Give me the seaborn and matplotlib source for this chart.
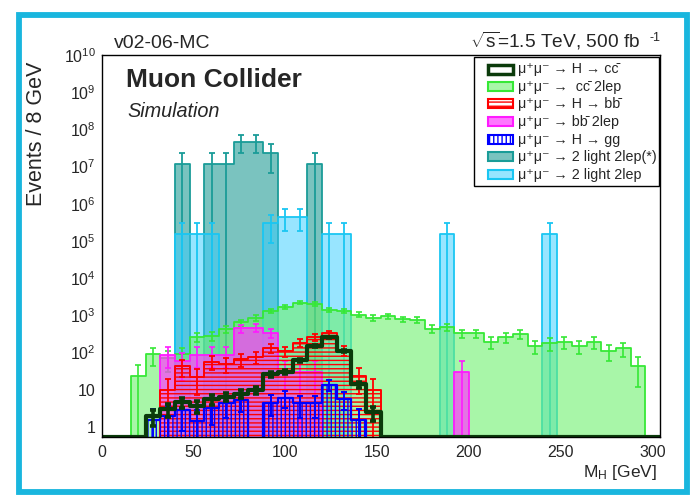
import matplotlib
matplotlib.use("Agg")
import matplotlib.pyplot as plt
import matplotlib.patches as mpatches
import matplotlib.ticker as mticker
import numpy as np
import pandas as pd
import seaborn as sns

W, H = 692, 497          # output size in pixels
YMIN, YMAX = 0.54, 1e10  # log y range

# ── data: events per 8 GeV bin, 0 .. 304 GeV (38 bins) ──────────────────────
bin_edges = np.arange(0, 305, 8)
bin_centers = bin_edges[:-1] + 4

h_cc = [0, 0, 0, 2.0, 3.1, 4.6, 3.6, 5.5, 6.6, 7.8, 10, 26, 31, 63, 153, 258, 108, 14, 2.5,
        0, 0, 0, 0, 0, 0, 0, 0, 0, 0, 0, 0, 0, 0, 0, 0, 0, 0, 0]
cc_2lep = [0, 0, 24, 90, 70, 90, 267, 285, 431, 650, 867, 1313, 1714, 2222, 2065, 1441, 1355, 1045, 861,
           946, 785, 752, 439, 479, 330, 330, 196, 258, 311, 150, 178, 196, 150, 196, 110, 131, 44, 0]
h_bb = [0, 0, 0, 0, 10, 43, 22, 57, 50, 66, 76, 133, 110, 185, 263, 330, 117, 23, 10,
        0, 0, 0, 0, 0, 0, 0, 0, 0, 0, 0, 0, 0, 0, 0, 0, 0, 0, 0]
bb_2lep = [0, 0, 0, 0, 89, 59, 89, 89, 89, 450, 467, 343, 30, 30, 30, 0, 0, 0, 0,
           0, 0, 0, 0, 0, 30, 0, 0, 0, 0, 0, 0, 0, 0, 0, 0, 0, 0, 0]
h_gg = [0, 0, 0, 1.5, 2.0, 2.8, 1.45, 3.3, 4.3, 5.3, 0, 4.5, 6.2, 4.3, 4.3, 13.7, 5.8, 1.5, 0,
        0, 0, 0, 0, 0, 0, 0, 0, 0, 0, 0, 0, 0, 0, 0, 0, 0, 0, 0]
light_2lep_star = [0, 0, 0, 0, 0, 1.18e7, 0, 1.18e7, 1.18e7, 4.7e7, 4.7e7, 2.36e7, 0, 0, 1.18e7, 0, 0, 0, 0,
                   0, 0, 0, 0, 0, 0, 0, 0, 0, 0, 0, 0, 0, 0, 0, 0, 0, 0, 0]
light_2lep = [0, 0, 0, 0, 0, 1.51e5, 1.51e5, 1.51e5, 0, 0, 0, 3.02e5, 4.53e5, 4.53e5, 0, 1.51e5, 1.51e5, 0, 0,
              0, 0, 0, 0, 1.51e5, 0, 0, 0, 0, 0, 0, 1.51e5, 0, 0, 0, 0, 0, 0, 0]

# per-event MC weight of each sample (sets the size of the error bars)
w_cc, w_cc2, w_bb, w_bb2, w_gg, w_l2s, w_l2 = 0.45, 23, 10, 29.5, 1.45, 1.18e7, 1.51e5

# plain unicode labels (combining macron for the anti-quarks)
labels = [
    "\u03bc\u207a\u03bc\u207b \u2192 H \u2192 cc\u0304",
    "\u03bc\u207a\u03bc\u207b \u2192  cc\u0304 2lep",
    "\u03bc\u207a\u03bc\u207b \u2192 H \u2192 bb\u0304",
    "\u03bc\u207a\u03bc\u207b \u2192 bb\u0304 2lep",
    "\u03bc\u207a\u03bc\u207b \u2192 H \u2192 gg",
    "\u03bc\u207a\u03bc\u207b \u2192 2 light 2lep(*)",
    "\u03bc\u207a\u03bc\u207b \u2192 2 light 2lep",
]

C_CC = "#0b3b0b"
GREEN_E, GREEN_F = "#36e836", (0.43, 0.94, 0.43, 0.6)
RED = "#ff0000"
PINK_E, PINK_F = "#ff1aff", (1.0, 0.24, 1.0, 0.7)
BLUE = "#0000ff"
TEAL_E, TEAL_F = "#1a9c98", (0.16, 0.62, 0.60, 0.62)
CYAN_E, CYAN_F = "#1ac6f2", (0.2, 0.8, 1.0, 0.5)
BORDER = "#19b6de"

sns.set_style("white")
plt.rcParams["font.family"] = ["Liberation Sans", "DejaVu Sans"]
plt.rcParams["mathtext.fontset"] = "custom"
plt.rcParams["mathtext.rm"] = "Liberation Sans"
plt.rcParams["mathtext.it"] = "Liberation Sans:italic"
plt.rcParams["mathtext.bf"] = "Liberation Sans:bold"
plt.rcParams["mathtext.default"] = "regular"
plt.rcParams["hatch.linewidth"] = 1.0


def fx(x):
    return x / W


def fy(y):
    return 1 - y / H


def px_rect(x, y, w, h, **kw):
    return mpatches.Rectangle((fx(x), fy(y + h)), w / W, h / H,
                              transform=fig.transFigure, **kw)


def draw_hist(values, color, fill=True, **kw):
    df = pd.DataFrame({"mass": bin_centers, "events": values})
    sns.histplot(data=df, x="mass", weights="events", bins=bin_edges.tolist(),
                 element="step", fill=fill, color=color, ax=ax, **kw)


def draw_errors(values, weight, color, lw, z, cap=2):
    v = np.asarray(values, float)
    m = v > 0
    err = np.sqrt(v[m] * weight)
    ax.errorbar(bin_centers[m], v[m], yerr=[err, err], fmt="none", ecolor=color,
                elinewidth=lw, capsize=cap, capthick=lw, zorder=z)


fig = plt.figure(figsize=(W / 100, H / 100), dpi=100)
ax = fig.add_axes([fx(101.5), fy(437), (660 - 101.5) / W, (437 - 55) / H])

draw_hist(light_2lep_star, TEAL_E, facecolor=TEAL_F, edgecolor=TEAL_E, linewidth=1.3, zorder=2)
draw_errors(light_2lep_star, w_l2s, TEAL_E, 1.3, 2.1)
draw_hist(light_2lep, CYAN_E, facecolor=CYAN_F, edgecolor=CYAN_E, linewidth=1.3, zorder=3)
draw_errors(light_2lep, w_l2, CYAN_E, 1.3, 3.1)
draw_hist(cc_2lep, GREEN_E, facecolor=GREEN_F, edgecolor=GREEN_E, linewidth=1.3, zorder=4)
draw_errors(cc_2lep, w_cc2, GREEN_E, 1.2, 4.1)
draw_hist(bb_2lep, PINK_E, facecolor=PINK_F, edgecolor=PINK_E, linewidth=1.3, zorder=5)
draw_errors(bb_2lep, w_bb2, PINK_E, 1.2, 5.1)
draw_hist(h_bb, RED, facecolor="none", edgecolor=RED, hatch="----", linewidth=1.4, zorder=6)
draw_errors(h_bb, w_bb, RED, 1.3, 6.1)
draw_hist(h_gg, BLUE, facecolor="none", edgecolor=BLUE, hatch="||||", linewidth=1.6, zorder=7)
draw_errors(h_gg, w_gg, BLUE, 1.4, 7.1)
# H -> cc drawn as a thick outline only; empty bins sit on the bottom of the frame
cc_line = np.where(np.asarray(h_cc) > 0, h_cc, YMIN)
draw_hist(cc_line, C_CC, fill=False, linewidth=3, zorder=8)
draw_errors(h_cc, w_cc, C_CC, 2.6, 8.1, cap=2.5)

ax.set_yscale("log")
ax.set_xlim(0, 304)
ax.set_ylim(YMIN, YMAX)
ax.set_xlabel("")
ax.set_ylabel("")

ax.xaxis.set_major_locator(mticker.MultipleLocator(50))
ax.xaxis.set_minor_locator(mticker.MultipleLocator(10))
ax.yaxis.set_major_locator(mticker.FixedLocator([10.0 ** k for k in range(11)]))
ax.yaxis.set_major_formatter(mticker.FixedFormatter(
    ["1", "10"] + [r"$10^{%d}$" % k for k in range(2, 11)]))
ax.yaxis.set_minor_locator(mticker.LogLocator(base=10, subs=np.arange(2, 10), numticks=20))
ax.yaxis.set_minor_formatter(mticker.NullFormatter())
ax.tick_params(axis="both", which="both", direction="in", top=False, right=False,
               color="black", width=0.8, labelsize=11.5)
ax.tick_params(axis="both", which="major", length=7.5)
ax.tick_params(axis="both", which="minor", length=3.8)
ax.tick_params(axis="x", pad=6)
ax.tick_params(axis="y", pad=4)
for sp in ax.spines.values():
    sp.set_color("black")
    sp.set_linewidth(1.0)
    sp.set_zorder(20)

# labels and header texts
fig.text(fx(37), fy(62), "Events / 8 GeV", rotation=90, ha="center", va="top", fontsize=15.5)
fig.text(fx(657), fy(477), r"$M_{H}$ [GeV]", ha="right", va="baseline", fontsize=12.5)
fig.text(fx(114), fy(47.5), "v02-06-MC", va="baseline", fontsize=14)
fig.text(fx(640), fy(47.5), r"$\sqrt{s}$=1.5 TeV, 500 fb", ha="right", va="baseline", fontsize=13.8)
fig.text(fx(650), fy(41), "-1", va="baseline", fontsize=9)
fig.text(fx(126), fy(86.7), "Muon Collider", va="baseline", fontsize=19, fontweight="bold")
fig.text(fx(127), fy(117.3), "Simulation", va="baseline", fontsize=14.3, fontstyle="italic")

# legend box, drawn by hand in pixel coordinates like the ROOT TLegend
fig.add_artist(px_rect(474, 57, 185, 129, facecolor="white", edgecolor="black", lw=1.0, zorder=30))
swatches = [
    dict(facecolor="white", edgecolor=C_CC, lw=2.5),
    dict(facecolor=GREEN_F, edgecolor=GREEN_E, lw=1.5),
    dict(facecolor="white", edgecolor=RED, hatch="----", lw=1.5),
    dict(facecolor=PINK_F, edgecolor=PINK_E, lw=1.5),
    dict(facecolor="white", edgecolor=BLUE, hatch="||||", lw=1.5),
    dict(facecolor=TEAL_F, edgecolor=TEAL_E, lw=1.5),
    dict(facecolor=CYAN_F, edgecolor=CYAN_E, lw=1.5),
]
for i, (lab, sw) in enumerate(zip(labels, swatches)):
    yc = 69 + 17.5 * i
    fig.add_artist(px_rect(488, yc - 4.5, 25, 9, zorder=31, **sw))
    fig.text(fx(518), fy(yc + 4.5), lab, va="baseline", fontsize=10.3, zorder=32)

# cyan slide frame around the whole picture
fig.add_artist(px_rect(19, 14.5, 668, 477.5, fill=False, edgecolor=BORDER, lw=4.2, zorder=40))

fig.savefig("out.png", dpi=100)
